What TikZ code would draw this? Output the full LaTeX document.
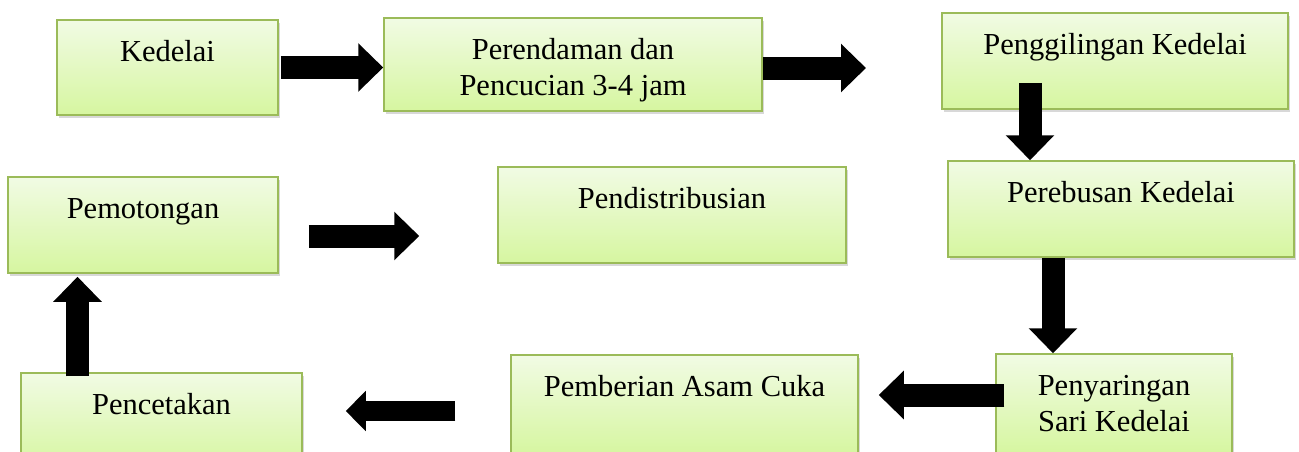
\documentclass[tikz,border=0pt]{standalone}
\usepackage{fontspec}
\setmainfont{Liberation Serif}
\usetikzlibrary{arrows.meta,shadows}

\definecolor{garishijau}{RGB}{155,187,89}
\definecolor{hijauatas}{RGB}{241,251,228}
\definecolor{hijaubawah}{RGB}{214,246,160}

\tikzset{
  tahap/.style n args={3}{draw=garishijau, line width=1.5pt,
    top color=hijauatas, bottom color=hijaubawah,
    drop shadow={shadow xshift=2pt, shadow yshift=-3pt, opacity=.3},
    inner sep=0pt, align=center, font=\fontsize{30.5}{36}\selectfont,
    minimum width=#1, minimum height=#2, text height=41pt, text depth=#3},
  duabaris/.style={text height=77pt, text depth=#1},
  panah/.style={line width=23pt, -{Triangle[length=25pt,width=47pt]}},
  panahkecil/.style={line width=20pt, -{Triangle[length=20pt,width=39pt]}}
}

\begin{document}
\begin{tikzpicture}[x=1pt,y=-1pt]

\useasboundingbox (0,0) rectangle (1299,451);
\fill[white] (0,0) rectangle (1299,451);

\node[tahap={221pt}{95pt}{54pt}] (kedelai) at (167.5,67.5) {Kedelai};
\node[tahap={378pt}{93pt}{52pt}, duabaris=16pt] (rendam) at (573,64.5) {Perendaman dan\\Pencucian 3-4 jam};
\node[tahap={346pt}{96pt}{55pt}] (giling) at (1115,61) {Penggilingan Kedelai};
\node[tahap={346pt}{96pt}{55pt}] (rebus) at (1121,209) {Perebusan Kedelai};
\node[tahap={236pt}{100pt}{59pt}, duabaris=23pt] (saring) at (1114,404) {Penyaringan\\Sari Kedelai};
\node[tahap={347pt}{100pt}{59pt}] (cuka) at (684.5,405) {Pemberian Asam Cuka};
\node[tahap={281pt}{96pt}{55pt}] (cetak) at (161.5,421) {Pencetakan};
\node[tahap={270pt}{96pt}{55pt}] (potong) at (143,225) {Pemotongan};
\node[tahap={348pt}{96pt}{55pt}] (distribusi) at (672,215) {Pendistribusian};

\coordinate (ujungrendam) at (866,68);

\draw[panah] ([xshift=2pt]kedelai.east) -- (kedelai.east -| rendam.west);
\draw[panah] (rendam.east |- ujungrendam) -- (ujungrendam);
\draw[panah] ([shift={(-85,-27)}]giling.south) -- ([xshift=-91pt]rebus.north);
\draw[panah] ([xshift=-68pt]rebus.south) -- ([xshift=-61pt]saring.north);
\draw[panah] ([shift={(9,-9)}]saring.west) -- ([shift={(20,-10)}]cuka.east);
\draw[panahkecil] ([shift={(-55,6)}]cuka.west) -- ([shift={(43,-10)}]cetak.east);
\draw[panah] ([shift={(-84,4)}]cetak.north) -- ([shift={(-65.5,3)}]potong.south);
\draw[panah] ([shift={(30,11)}]potong.east) -- ([shift={(-78,21)}]distribusi.west);

\end{tikzpicture}
\end{document}
